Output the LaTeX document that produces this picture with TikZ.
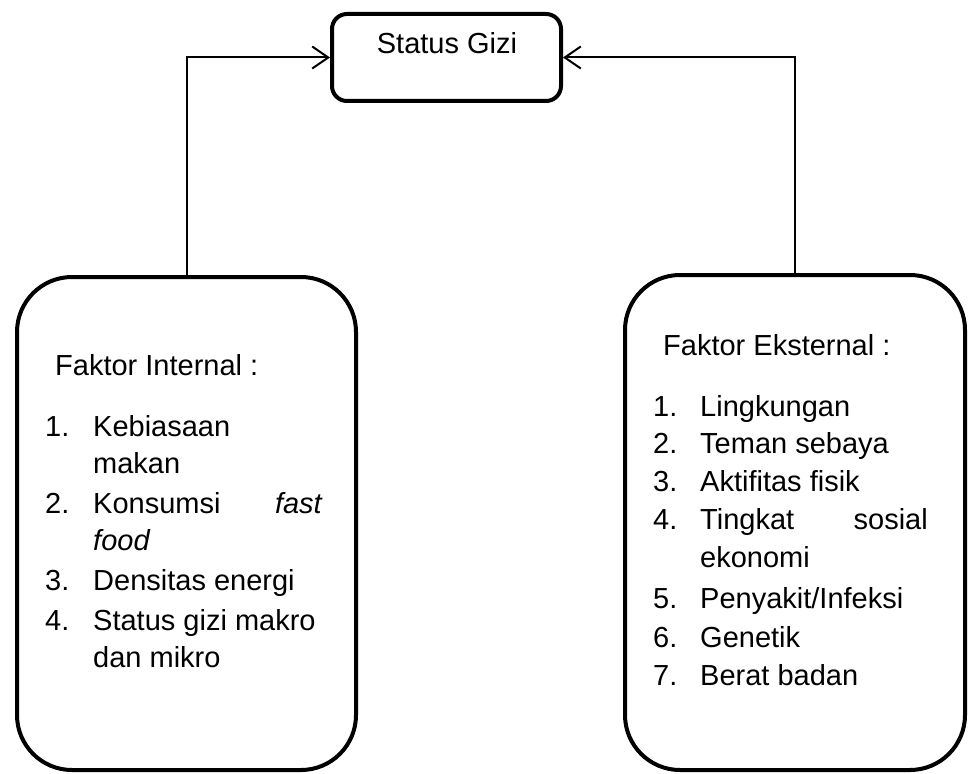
\documentclass[tikz,border=0pt]{standalone}
\usepackage{fontspec}
\setmainfont{Liberation Sans}
\usetikzlibrary{arrows.meta}
\begin{document}
\begin{tikzpicture}[x=1pt,y=-1pt,
  bigbox/.style={draw, line width=4pt, rounded corners=55pt, inner sep=0pt, outer sep=2pt},
  smallbox/.style={draw, line width=4pt, rounded corners=15pt, inner sep=0pt, outer sep=2pt},
  txt/.style={anchor=base west, inner sep=0pt, font=\fontsize{29}{35}\selectfont},
  txtr/.style={anchor=base east, inner sep=0pt, font=\fontsize{29}{35}\selectfont\itshape},
  conn/.style={line width=2pt, -{Straight Barb[length=16pt,width=22pt,line width=2pt]}}]
\useasboundingbox (0,0) rectangle (968,773);
\node[smallbox, minimum width=229pt, minimum height=87pt] (sg) at (446.5,57.5) {};
\node[txt, anchor=base] (sgt) at (447,54) {Status Gizi};
\node[bigbox, minimum width=339pt, minimum height=493pt] (lb) at (186.5,523.5) {};
\node[bigbox, minimum width=340pt, minimum height=495pt] (rb) at (795,522.5) {};
\draw[conn] (lb.north) |- (sg.west);
\draw[conn] (rb.north) |- (sg.east);
% left box text
\node[txt] (lh) at (55,375) {Faktor Internal :};
\node[txt] (ln1) at (45,436) {1.};
\node[txt] (li1) at (93,436) {Kebiasaan};
\node[txt] (li1b) at (93,473) {makan};
\node[txt] (ln2) at (45,513) {2.};
\node[txt] (li2) at (93,513) {Konsumsi};
\node[txtr] (li2r) at (322,513) {fast};
\node[txt, font=\fontsize{29}{35}\selectfont\itshape] (li2b) at (93,550) {food};
\node[txt] (ln3) at (45,590) {3.};
\node[txt] (li3) at (93,590) {Densitas energi};
\node[txt] (ln4) at (45,630) {4.};
\node[txt] (li4) at (93,630) {Status gizi makro};
\node[txt] (li4b) at (93,667) {dan mikro};
% right box text
\node[txt] (rh) at (663,355) {Faktor Eksternal :};
\node[txt] (rn1) at (653,416) {1.};
\node[txt] (ri1) at (700,416) {Lingkungan};
\node[txt] (rn2) at (653,453) {2.};
\node[txt] (ri2) at (700,453) {Teman sebaya};
\node[txt] (rn3) at (653,491) {3.};
\node[txt] (ri3) at (700,491) {Aktifitas fisik};
\node[txt] (rn4) at (653,529) {4.};
\node[txt] (ri4) at (700,529) {Tingkat};
\node[txtr, font=\fontsize{29}{35}\selectfont] (ri4r) at (928,529) {sosial};
\node[txt] (ri4b) at (700,567) {ekonomi};
\node[txt] (rn5) at (653,608) {5.};
\node[txt] (ri5) at (700,608) {Penyakit/Infeksi};
\node[txt] (rn6) at (653,647) {6.};
\node[txt] (ri6) at (700,647) {Genetik};
\node[txt] (rn7) at (653,685) {7.};
\node[txt] (ri7) at (700,685) {Berat badan};
\end{tikzpicture}
\end{document}
